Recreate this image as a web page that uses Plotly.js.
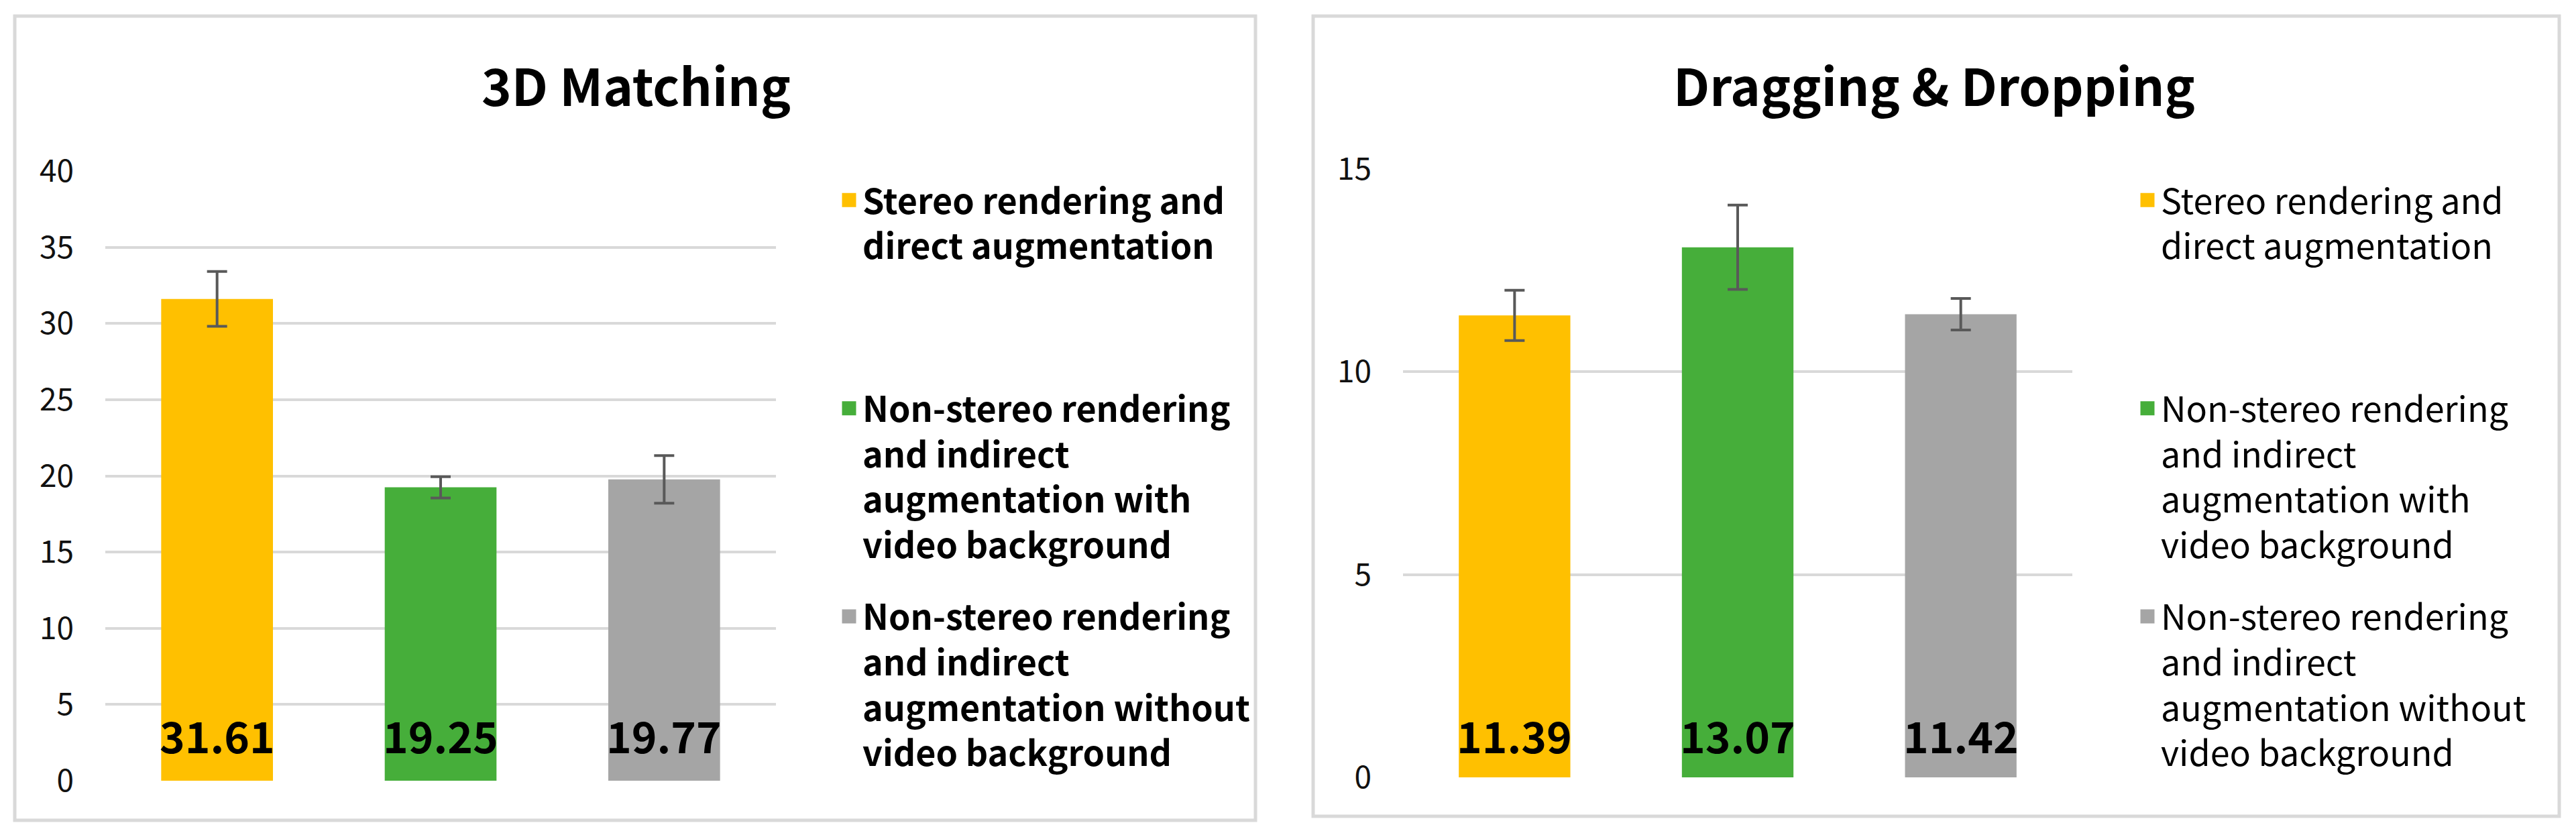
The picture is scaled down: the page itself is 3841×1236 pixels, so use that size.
<!DOCTYPE html>
<html>
<head>
<meta charset="utf-8">
<script src="https://cdn.plot.ly/plotly-3.0.1.min.js"></script>
<style>html,body{margin:0;padding:0;background:#fff}</style>
</head>
<body>
<div id="chart" style="width:3841px;height:1236px"></div>
<script>
// conditions shown in both panels
const categories = ['stereo', 'video', 'noVideo'];
const conditionNames = [
	'Stereo rendering and<br>direct augmentation',
	'Non-stereo rendering<br>and indirect<br>augmentation with<br>video background',
	'Non-stereo rendering<br>and indirect<br>augmentation without<br>video background'
];
const barColors = ['#FFC000', '#46AE3A', '#A5A5A5'];

// 3D matching task
const matchingMeans = [31.61, 19.25, 19.77];
const matchingErrors = [1.8, 0.7, 1.56];

// dragging & dropping task
const draggingMeans = [11.39, 13.07, 11.42];
const draggingErrors = [0.62, 1.04, 0.39];

const W = 3841, H = 1236;
const px = x => x / W;
const py = y => 1 - y / H;

const leftFont = 'Noto Sans CJK KR, Noto Sans, sans-serif';
const rightFont = 'Noto Sans CJK KR, Noto Sans, sans-serif';

// pad each legend entry to four lines so the items sit evenly
function padLines(name) {
	let n = name.split('<br>').length;
	while (n < 4) { name += '<br> '; n++; }
	return name;
}

function barTrace(means, errors, xa, ya) {
	return {
		type: 'bar',
		x: categories,
		y: means,
		xaxis: xa,
		yaxis: ya,
		marker: { color: barColors },
		error_y: { type: 'data', array: errors, color: '#595959', thickness: 4, width: 15 },
		showlegend: false,
		hoverinfo: 'skip'
	};
}

function legendTraces(xa, ya, legendId) {
	return conditionNames.map((name, i) => ({
		type: 'scatter',
		mode: 'markers',
		x: [null],
		y: [null],
		xaxis: xa,
		yaxis: ya,
		name: padLines(name),
		legend: legendId,
		legendgroup: legendId + i,
		marker: { symbol: 'square', size: 16, color: barColors[i], line: { color: barColors[i], width: 5 } }
	}));
}

const traces = [
	barTrace(matchingMeans, matchingErrors, 'x', 'y'),
	barTrace(draggingMeans, draggingErrors, 'x2', 'y2'),
	...legendTraces('x', 'y', 'legend'),
	...legendTraces('x2', 'y2', 'legend2')
];

function valueLabels(means, xa, family) {
	return means.map((v, i) => ({
		xref: xa,
		yref: 'paper',
		x: categories[i],
		y: py(1095),
		xanchor: 'center',
		yanchor: 'middle',
		text: v.toFixed(2),
		showarrow: false,
		font: { family: family, size: 64, weight: 700, color: '#000' }
	}));
}

const xaxisBase = { showticklabels: false, showgrid: false, zeroline: false, showline: false, ticks: '', fixedrange: true };
function yaxisBase(family) {
	return {
		dtick: 5,
		showgrid: true,
		gridcolor: '#d9d9d9',
		gridwidth: 4,
		zeroline: false,
		showline: false,
		ticks: '',
		ticklabelstandoff: 46,
		tickfont: { family: family, size: 46, color: '#111' },
		fixedrange: true
	};
}

function legendBase(x, family, weight) {
	return {
		x: px(x),
		y: py(258),
		xanchor: 'left',
		yanchor: 'top',
		valign: 'top',
		traceorder: 'grouped',
		tracegroupgap: 37,
		bgcolor: 'rgba(0,0,0,0)',
		font: { family: family, size: 52, weight: weight, color: '#000' }
	};
}

function title(text, x, family) {
	return {
		xref: 'paper', yref: 'paper', x: px(x), y: py(125),
		xanchor: 'center', yanchor: 'middle',
		text: text, showarrow: false,
		font: { family: family, size: 76, weight: 700, color: '#000' }
	};
}

const layout = {
	width: W,
	height: H,
	margin: { l: 0, r: 0, t: 0, b: 0 },
	paper_bgcolor: '#fff',
	plot_bgcolor: '#fff',
	bargap: 0.5,
	showlegend: true,
	xaxis: Object.assign({ domain: [px(157), px(1157)] }, xaxisBase),
	yaxis: Object.assign({ domain: [py(1164), py(255)], range: [0, 40] }, yaxisBase(leftFont)),
	xaxis2: Object.assign({ domain: [px(2092), px(3090)], anchor: 'y2' }, xaxisBase),
	yaxis2: Object.assign({ domain: [py(1159), py(252)], range: [0, 15], anchor: 'x2' }, yaxisBase(rightFont)),
	legend: legendBase(1246, leftFont, 700),
	legend2: legendBase(3182, rightFont, 400),
	shapes: [
		{ type: 'rect', xref: 'paper', yref: 'paper', x0: px(22), x1: px(1872), y0: py(1223), y1: py(24), line: { color: '#d9d9d9', width: 5 } },
		{ type: 'rect', xref: 'paper', yref: 'paper', x0: px(1958), x1: px(3816), y0: py(1217), y1: py(24), line: { color: '#d9d9d9', width: 5 } }
	],
	annotations: [
		title('3D Matching', 948, leftFont),
		title('Dragging &amp; Dropping', 2884, rightFont),
		...valueLabels(matchingMeans, 'x', leftFont),
		...valueLabels(draggingMeans, 'x2', rightFont)
	]
};

Plotly.newPlot('chart', traces, layout, { staticPlot: true });
</script>
</body>
</html>
